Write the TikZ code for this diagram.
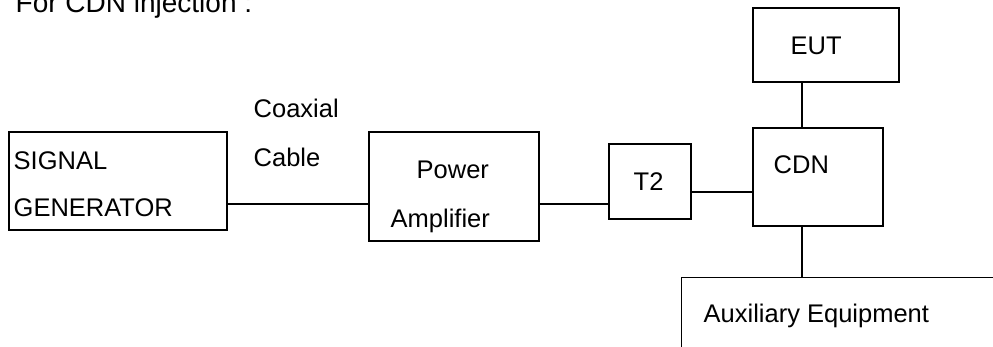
\documentclass[tikz,border=0pt]{standalone}
\usepackage{fontspec}
\setmainfont{Liberation Sans}
\usepackage{tikz}
\usetikzlibrary{positioning}

\begin{document}
\begin{tikzpicture}[x=1pt,y=-1pt,line width=1.4pt,
	box/.style={draw,inner sep=0pt},
	lbl/.style={anchor=base west,inner sep=0pt,font=\fontsize{25.5}{30}\selectfont}]
	\clip (0,0) rectangle (993,347);
	%
	\node[lbl,font=\fontsize{28}{32}\selectfont] (title) at (15,13) {For CDN injection :};
	%
	\node[box,minimum width=218,minimum height=98] (sg) at (118,181) {};
	\node[box,minimum width=170,minimum height=109] (pa) at (454,186.5) {};
	\node[box,minimum width=82,minimum height=75] (t2) at (650,181.5) {};
	\node[box,minimum width=130,minimum height=98] (cdn) at (818,177) {};
	\node[box,minimum width=146,minimum height=74] (eut) at (826,45) {};
	\node[box,minimum width=340,minimum height=100,anchor=north west] (aux) at (681,277) {};
	%
	\node[lbl] (sig) at (13,170) {SIGNAL};
	\node[lbl] (gen) at (13,217) {GENERATOR};
	\node[lbl] (coax) at (253,118) {Coaxial};
	\node[lbl] (cable) at (253,167) {Cable};
	\node[lbl] (pow) at (416,179) {Power};
	\node[lbl] (amp) at (390,228) {Amplifier};
	\node[lbl] (t2txt) at (633,191) {T2};
	\node[lbl] (cdntxt) at (773,174) {CDN};
	\node[lbl] (euttxt) at (790,55) {EUT};
	\node[lbl] (auxtxt) at (703,323) {Auxiliary Equipment};
	%
	\draw ([yshift=-23pt]sg.east) -- ([yshift=-23pt]sg.east -| pa.west);
	\draw ([yshift=-17.5pt]pa.east) -- ([yshift=-17.5pt]pa.east -| t2.west);
	\draw ([yshift=-10.5pt]t2.east) -- ([yshift=-10.5pt]t2.east -| cdn.west);
	\draw ([xshift=-16pt]cdn.north) -- ([xshift=-16pt]cdn.north |- eut.south);
	\draw ([xshift=-16pt]cdn.south) -- ([xshift=-16pt]cdn.south |- aux.north);
\end{tikzpicture}
\end{document}
